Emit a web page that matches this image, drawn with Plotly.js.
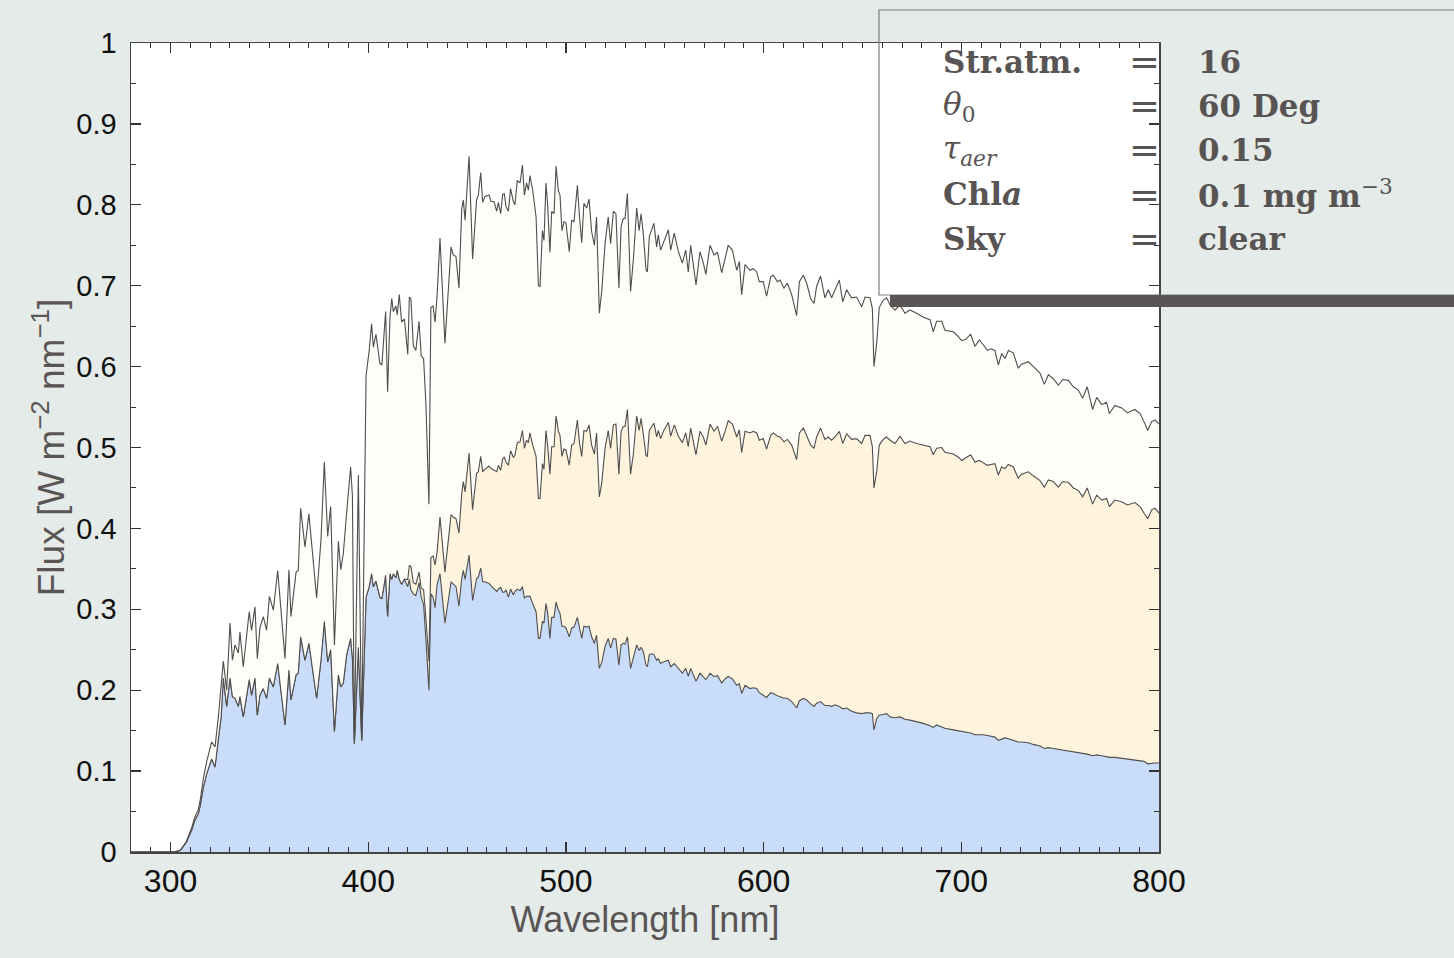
<!DOCTYPE html>
<html>
<head>
<meta charset="utf-8">
<script src="https://cdn.plot.ly/plotly-3.0.1.min.js"></script>
<style>
html,body{margin:0;padding:0;background:#e4ebe8;}
#chart{width:1454px;height:958px;}
</style>
</head>
<body>
<div id="chart"></div>
<script>
// Wavelength [nm]
const wavelength = [280,295,302,305,308,310.7,312.4,314,315,316.6,318.3,320.8,322.5,324.2,325.6,326.7,328.4,330.1,331.3,332.6,334.3,335.1,336.8,339.8,341,342.7,343.9,345.2,346.9,348.6,350,352,354.2,357.9,359.9,360.9,363.5,364.6,365.8,368,370,373.9,376.1,377.8,379.5,381,382.9,384.9,386.1,387.4,389.1,391.1,392,393,395,396.7,398.9,400.5,401.7,402.6,403.9,405.9,406.9,408.8,409.8,411,411.9,412.7,414,414.7,415.7,416.9,418.3,
420,420.8,421.6,422.8,424.1,425.7,426.8,428,429.2,430.7,431.7,432.8,433.8,434.8,436.3,438.8,441.9,443,444.4,445.9,447.3,448.1,449,451,452.8,454.8,455.7,456.9,457.9,459,461.1,462.1,463.6,465,465.8,467,468,468.8,469.7,470.9,472,473.4,474.2,475.4,476.8,478,479,480.1,481,481.8,483.2,484.9,486.1,486.9,488.1,488.9,489.9,490.8,491.9,492.8,494,495,496.2,497,498,499,500,
501.7,502.9,504.1,505.8,506.8,508,509.1,510.5,511.7,513,514.4,515.5,516.9,518.1,519.8,521.4,522.6,524,525.3,526.8,527.9,529,529.9,531.1,532.7,534.1,535.8,537,538,539.1,540.5,541.2,542.2,543.4,544.5,545.9,546.7,547.9,549.3,551.8,553,554.8,556.9,558.9,560.6,561.9,563.1,565.8,567.8,569.5,570.8,572.9,574.9,576.7,578.8,580.5,582.1,584.2,586.4,587.7,588.9,590.6,593.1,594.8,596.5,597.8,599.8,
601.5,603.6,604.9,607,608.3,610.3,612,614.2,616.7,618.1,620.1,621.8,623.8,625.5,626.8,628.8,631,632.7,634.4,636.1,638.3,640,642,644.5,647,649.6,651.3,653.8,655,655.8,657.2,658.5,660.5,662.2,664,666.5,669,671.5,674,677.4,680.8,684.2,685.8,687.5,690.1,691.7,696,698.5,700.2,
702.4,704.7,706.9,709.1,711.1,713.2,715,717,718.7,720.4,722.1,723.8,726.3,728.8,730.5,733.9,736.4,739.8,742,744,746.5,749.1,751.3,754.1,756.7,759.2,761.4,763.7,766.4,768.5,771,773.5,774.9,777.7,781.1,784,787.8,790.4,792.4,794.3,796.3,798,800];

// Upper curve
const fluxTop = [0,0,0,.002,.013,.03,.044,.052,.064,.091,.112,.136,.13,.167,.21,.236,.2,.283,.237,.256,.246,.272,.229,.297,.274,.303,.239,.277,.291,.274,.316,.299,.348,.239,.349,.291,.346,.348,.425,.377,.418,.314,.386,.482,.39,.427,.256,.384,.349,.369,.42,.476,.44,.134,.466,.138,.589,.62,.653,.624,.64,.604,.602,.668,.569,.662,.684,.668,.675,.664,.689,.655,.659,
.615,.686,.684,.626,.62,.656,.613,.61,.553,.43,.673,.675,.655,.686,.759,.629,.748,.738,.736,.697,.795,.806,.781,.86,.733,.806,.812,.84,.803,.81,.812,.804,.804,.792,.803,.789,.813,.814,.798,.792,.82,.804,.8,.83,.827,.849,.812,.827,.818,.836,.818,.785,.7,.699,.768,.756,.827,.798,.741,.792,.789,.848,.817,.812,.768,.779,.778,
.742,.781,.779,.824,.787,.753,.802,.796,.807,.767,.75,.785,.666,.693,.752,.785,.752,.792,.789,.697,.773,.783,.783,.814,.693,.732,.796,.768,.789,.765,.72,.717,.761,.771,.777,.748,.763,.744,.754,.769,.744,.765,.742,.728,.744,.717,.75,.701,.742,.728,.714,.75,.738,.741,.716,.733,.75,.744,.719,.73,.689,.726,.719,.721,.717,.705,.705,
.687,.711,.713,.705,.707,.697,.703,.689,.663,.705,.713,.703,.684,.678,.699,.712,.685,.695,.685,.694,.707,.68,.695,.685,.686,.674,.686,.685,.672,.6,.629,.673,.682,.685,.676,.67,.676,.666,.67,.666,.661,.658,.643,.656,.656,.645,.643,.637,.632,
.634,.64,.625,.633,.627,.62,.622,.62,.602,.616,.61,.62,.617,.598,.603,.606,.6,.592,.578,.59,.585,.577,.584,.583,.575,.571,.561,.575,.547,.562,.553,.556,.542,.552,.549,.543,.547,.542,.532,.521,.532,.534,.529];

// Middle curve
const fluxMid = [0,0,0,.002,.012,.027,.04,.047,.057,.08,.097,.115,.105,.14,.167,.215,.18,.215,.192,.19,.18,.192,.167,.213,.194,.215,.169,.194,.202,.19,.215,.204,.233,.157,.225,.188,.219,.221,.266,.237,.258,.19,.237,.285,.235,.25,.149,.219,.204,.209,.244,.264,.24,.134,.253,.138,.315,.328,.344,.328,.335,.315,.313,.342,.291,.344,.337,.344,.339,.348,.337,.331,.337,
.337,.354,.353,.333,.331,.346,.326,.324,.289,.236,.364,.366,.355,.37,.414,.346,.417,.414,.412,.394,.443,.458,.445,.493,.423,.468,.47,.489,.47,.473,.477,.474,.472,.47,.478,.472,.486,.488,.482,.478,.496,.488,.49,.506,.507,.521,.499,.509,.506,.518,.503,.489,.437,.437,.48,.473,.521,.501,.467,.501,.501,.539,.52,.515,.489,.498,.497,
.478,.503,.505,.534,.507,.489,.521,.52,.528,.503,.492,.518,.439,.456,.499,.521,.499,.528,.529,.467,.52,.526,.526,.547,.467,.492,.539,.521,.536,.517,.49,.489,.521,.526,.53,.513,.521,.511,.52,.531,.514,.528,.514,.506,.518,.501,.524,.491,.52,.513,.503,.529,.52,.526,.508,.52,.533,.529,.513,.522,.494,.52,.518,.52,.518,.509,.511,
.498,.515,.518,.514,.513,.507,.51,.503,.485,.518,.524,.515,.503,.499,.513,.524,.51,.513,.509,.513,.52,.505,.517,.51,.511,.505,.515,.515,.501,.45,.47,.503,.51,.513,.509,.505,.514,.505,.508,.505,.503,.501,.491,.499,.5,.494,.492,.488,.484,
.487,.491,.482,.484,.481,.478,.479,.48,.466,.476,.474,.479,.476,.462,.467,.47,.465,.459,.451,.46,.458,.451,.458,.457,.45,.447,.439,.45,.43,.441,.435,.437,.427,.435,.433,.429,.432,.427,.419,.412,.423,.425,.419];

// Lower curve
const fluxBot = [0,0,0,.002,.012,.027,.04,.047,.057,.08,.097,.115,.105,.14,.167,.215,.18,.215,.192,.19,.18,.192,.167,.213,.194,.215,.169,.194,.202,.19,.215,.204,.233,.157,.225,.188,.219,.221,.266,.237,.258,.19,.237,.285,.235,.25,.149,.219,.204,.209,.244,.264,.24,.134,.253,.138,.315,.328,.344,.328,.335,.315,.313,.342,.291,.344,.337,.344,.339,.348,.337,.331,.337,
.328,.337,.324,.319,.317,.333,.315,.306,.262,.2,.319,.315,.302,.33,.344,.283,.334,.331,.328,.304,.338,.348,.337,.367,.311,.338,.34,.351,.334,.334,.332,.329,.325,.322,.325,.327,.321,.321,.324,.315,.325,.318,.322,.325,.323,.328,.314,.316,.316,.316,.307,.297,.264,.264,.285,.283,.307,.295,.264,.29,.29,.309,.299,.295,.279,.279,.277,
.266,.277,.278,.29,.277,.264,.279,.278,.279,.266,.258,.268,.227,.234,.254,.264,.252,.264,.263,.231,.256,.258,.257,.266,.227,.239,.256,.249,.253,.248,.231,.229,.244,.245,.244,.237,.239,.233,.235,.237,.229,.233,.227,.221,.227,.217,.227,.211,.221,.217,.213,.221,.217,.218,.209,.214,.217,.214,.206,.208,.196,.206,.202,.203,.202,.197,.194,
.191,.197,.196,.193,.192,.19,.19,.186,.178,.187,.19,.188,.183,.18,.184,.186,.181,.181,.18,.182,.18,.177,.178,.174,.172,.171,.172,.172,.171,.151,.165,.169,.17,.171,.167,.166,.167,.164,.163,.161,.159,.156,.154,.157,.155,.153,.151,.15,.149,
.148,.147,.145,.145,.145,.144,.143,.142,.138,.14,.141,.14,.138,.136,.136,.135,.133,.131,.128,.129,.128,.127,.126,.125,.124,.123,.122,.121,.119,.12,.119,.118,.117,.117,.116,.115,.114,.113,.112,.109,.11,.11,.11];

// Legend table text
const legendLabels = ['<b>Str.atm.</b>', '<i>θ</i><sub>0</sub>', '<i>τ<sub>aer</sub></i>', '<b>Chl<i>a</i></b>', '<b>Sky</b>'];
const legendValues = ['<b>16</b>', '<b>60 Deg</b>', '<b>0.15</b>', '<b>0.1 mg m</b><sup>−3</sup>', '<b>clear</b>'];

// pixel -> paper helpers (plot area: x 131..1159, y 43..852)
const PL = 131, PW = 1028, PB = 852, PH = 809;
const px = v => (v - PL) / PW;
const py = v => (PB - v) / PH;

const lineStyle = {color: '#4f4d4d', width: 1.1};
const traces = [
  {x: wavelength, y: fluxBot, type: 'scatter', mode: 'lines', line: lineStyle, fill: 'tozeroy', fillcolor: '#c9ddfb', hoverinfo: 'skip'},
  {x: wavelength, y: fluxMid, type: 'scatter', mode: 'lines', line: lineStyle, fill: 'tonexty', fillcolor: '#fef4dd', hoverinfo: 'skip'},
  {x: wavelength, y: fluxTop, type: 'scatter', mode: 'lines', line: lineStyle, fill: 'tonexty', fillcolor: '#fffdf8', hoverinfo: 'skip'}
];

const rowY = [62, 106, 150, 194.3, 238.6];
const legFont = {family: 'DejaVu Serif', size: 31, color: '#595454'};
const eqFont = {family: 'DejaVu Serif', size: 37, color: '#595454'};
const annotations = [];
rowY.forEach((yy, i) => {
  annotations.push({xref: 'paper', yref: 'paper', x: px(941), y: py(yy), xanchor: 'left', yanchor: 'middle', text: legendLabels[i], showarrow: false, font: legFont});
  annotations.push({xref: 'paper', yref: 'paper', x: px(1144), y: py(yy + 1), xanchor: 'center', yanchor: 'middle', text: '=', showarrow: false, font: eqFont});
  annotations.push({xref: 'paper', yref: 'paper', x: px(1196), y: py(yy), xanchor: 'left', yanchor: 'middle', text: legendValues[i], showarrow: false, font: legFont});
});

const axisCommon = {
  ticks: 'inside', ticklen: 10, tickwidth: 1.2, tickcolor: '#333',
  showline: true, linecolor: '#444', linewidth: 1.5, mirror: 'allticks',
  showgrid: false, zeroline: false, fixedrange: true
};

const layout = {
  width: 1454, height: 958,
  margin: {l: 131, r: 295, t: 43, b: 106, pad: 0},
  paper_bgcolor: '#e4ebe8', plot_bgcolor: '#ffffff',
  showlegend: false,
  font: {family: 'Liberation Sans, Arial, sans-serif'},
  xaxis: Object.assign({}, axisCommon, {
    range: [280, 800], tick0: 300, dtick: 100,
    tickfont: {family: 'Liberation Sans', size: 32, color: '#111'},
    minor: {dtick: 10, ticks: 'inside', ticklen: 5, tickcolor: '#333', tickwidth: 1},
    title: {text: 'Wavelength [nm]', font: {family: 'Liberation Sans', size: 36, color: '#5a5555'}, standoff: 3}
  }),
  yaxis: Object.assign({}, axisCommon, {
    range: [0, 1], tick0: 0, dtick: 0.1,
    ticklabelstandoff: 7,
    tickfont: {family: 'Liberation Sans', size: 29, color: '#111'},
    minor: {dtick: 0.05, ticks: 'inside', ticklen: 5, tickcolor: '#333', tickwidth: 1},
    title: {text: 'Flux [W m<sup>−2</sup> nm<sup>−1</sup>]', font: {family: 'Liberation Sans', size: 37, color: '#5a5555'}, standoff: 0}
  }),
  shapes: [
    {type: 'rect', xref: 'paper', yref: 'paper', x0: px(879), x1: px(1470), y0: py(295), y1: py(10), line: {color: '#7d7d7d', width: 1.2}, fillcolor: 'rgba(0,0,0,0)', layer: 'above'},
    {type: 'rect', xref: 'paper', yref: 'paper', x0: px(890), x1: px(1470), y0: py(307), y1: py(295), line: {width: 0}, fillcolor: '#5a5554', layer: 'above'}
  ],
  annotations: annotations
};

Plotly.newPlot('chart', traces, layout, {displayModeBar: false, staticPlot: true});
</script>
</body>
</html>
